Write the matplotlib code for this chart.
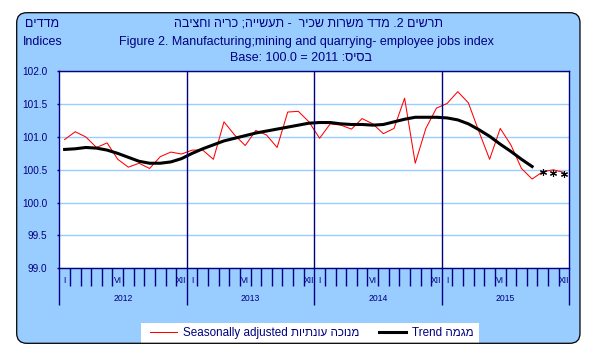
import numpy as np
import matplotlib
matplotlib.use('Agg')
import matplotlib.pyplot as plt
from matplotlib.patches import FancyBboxPatch, Rectangle
from matplotlib.transforms import blended_transform_factory

plt.rcParams['font.family'] = ['Liberation Sans', 'DejaVu Sans']


def rtl(s):
    # matplotlib has no bidi, so hebrew is given in visual order
    return s[::-1]


years = ['2012', '2013', '2014', '2015']
month_labels = {0: 'I', 5: 'VI', 11: 'XII'}

# seasonally adjusted, Jan 2012 - Dec 2015
seas_adj = [100.96, 101.08, 101.00, 100.84, 100.91, 100.66, 100.54, 100.60,
            100.52, 100.70, 100.77, 100.74,
            100.80, 100.80, 100.66, 101.23, 101.03, 100.87, 101.10, 101.03,
            100.84, 101.38, 101.39, 101.23,
            100.98, 101.20, 101.18, 101.12, 101.28, 101.20, 101.05, 101.13,
            101.59, 100.60, 101.13, 101.44,
            101.51, 101.69, 101.52, 101.08, 100.66, 101.13, 100.88, 100.52,
            100.36, 100.47, 100.50, 100.46]

# trend, Jan 2012 - Sep 2015
trend = [100.81, 100.82, 100.84, 100.83, 100.80, 100.75, 100.69, 100.63,
         100.60, 100.60, 100.62, 100.67,
         100.75, 100.82, 100.88, 100.94, 100.98, 101.02, 101.06, 101.09,
         101.12, 101.15, 101.18, 101.21,
         101.22, 101.22, 101.20, 101.19, 101.19, 101.18, 101.19, 101.23,
         101.27, 101.30, 101.30, 101.30,
         101.29, 101.26, 101.20, 101.11, 101.01, 100.89, 100.78, 100.66,
         100.55]
# last three trend estimates, shown as markers only
trend_est = [100.47, 100.45, 100.43]

navy = '#000080'
pale = '#99CCFF'
W, H = 609, 355

fig = plt.figure(figsize=(W / 100, H / 100), dpi=100)
fig.patch.set_facecolor('white')
inch = fig.dpi_scale_trans

# blue chart area with rounded corners (pixel positions /100 -> inches)
bx0, bx1, by0, by1 = 16.7, 580, 12.7, 343.3
fig.add_artist(FancyBboxPatch((bx0 / 100, (H - by1) / 100), (bx1 - bx0) / 100,
                              (by1 - by0) / 100,
                              boxstyle='round,pad=0,rounding_size=0.1',
                              transform=inch, fc=pale, ec='none', zorder=-3))
fig.add_artist(Rectangle((141 / 100, (H - by1) / 100), 338 / 100, 20 / 100,
                         transform=inch, fc='white', ec='none', zorder=-2))
fig.add_artist(FancyBboxPatch((bx0 / 100, (H - by1) / 100), (bx1 - bx0) / 100,
                              (by1 - by0) / 100,
                              boxstyle='round,pad=0,rounding_size=0.1',
                              transform=inch, fc='none', ec='black', lw=0.9,
                              zorder=5))

ax = fig.add_axes([59.3 / W, (H - 268.3) / H, 510 / W, 197 / H])
ax.set_facecolor('white')

x = np.arange(len(seas_adj)) + 0.5
ax.plot(x, seas_adj, color='red', lw=0.75,
        label='Seasonally adjusted ' + rtl('מנוכה עונתיות'))
ax.plot(x[:len(trend)], trend, color='black', lw=2.2,
        label='Trend ' + rtl('מגמה'))
ax.plot(x[len(trend):], trend_est, ls='none', marker=(6, 2, 0), ms=5,
        mec='black', mew=0.8)

ax.set_xlim(0, 48)
ax.set_ylim(99, 102)
ax.set_yticks(np.arange(99, 102.01, 0.5))
ax.yaxis.set_major_formatter('{x:.1f}')
ax.grid(axis='y', color=pale, lw=1)
ax.set_axisbelow(True)
for b in [12, 24, 36]:
    ax.axvline(b, color=navy, lw=1)

for s in ax.spines.values():
    s.set_color(navy)
    s.set_linewidth(1)

ax.set_xticks(np.arange(0, 49, 12))
ax.set_xticks(np.arange(49), minor=True)
ax.tick_params(axis='x', which='major', length=26.6, width=1, color=navy,
               labelbottom=False)
ax.tick_params(axis='x', which='minor', length=13.3, width=1, color=navy)
ax.tick_params(axis='y', length=1.5, width=1, pad=7, color=navy,
               labelcolor=navy, labelsize=7.2)

tr = blended_transform_factory(ax.transData, ax.transAxes)
for yi, yr in enumerate(years):
    for m, lab in month_labels.items():
        ax.annotate(lab, xy=(yi * 12 + m + 0.5, 0), xycoords=tr,
                    xytext=(0, -9.1), textcoords='offset points',
                    ha='center', va='center', fontsize=6.2, color=navy)
    ax.annotate(yr, xy=(yi * 12 + 6, 0), xycoords=tr, xytext=(0, -22.1),
                textcoords='offset points', ha='center', va='center',
                fontsize=6.2, color=navy)

# titles
tsz = 9.0
fig.text(308 / W, 1 - 24 / H,
         rtl('תרשים 2. מדד משרות שכיר  - תעשייה; כריה וחציבה'),
         ha='center', va='center', fontsize=tsz, color=navy)
fig.text(306 / W, 1 - 42 / H,
         'Figure 2. Manufacturing;mining and quarrying- employee jobs index',
         ha='center', va='center', fontsize=tsz, color=navy)
fig.text(301 / W, 1 - 58 / H, 'Base: 100.0 = 2011 :' + rtl('בסיס'),
         ha='center', va='center', fontsize=tsz, color=navy)
fig.text(42.5 / W, 1 - 24 / H, rtl('מדדים'), ha='center', va='center',
         fontsize=tsz, color=navy)
fig.text(42.3 / W, 1 - 42 / H, 'Indices', ha='center', va='center',
         fontsize=tsz, color=navy)

leg = fig.legend(loc='center', bbox_to_anchor=(311.7 / W, (H - 333) / H),
                 ncol=2, frameon=False, fontsize=8.4, handlelength=2.35,
                 handletextpad=0.5, columnspacing=1.65, borderpad=0)
for t in leg.get_texts():
    t.set_color(navy)

fig.savefig('out.png', dpi=100)
